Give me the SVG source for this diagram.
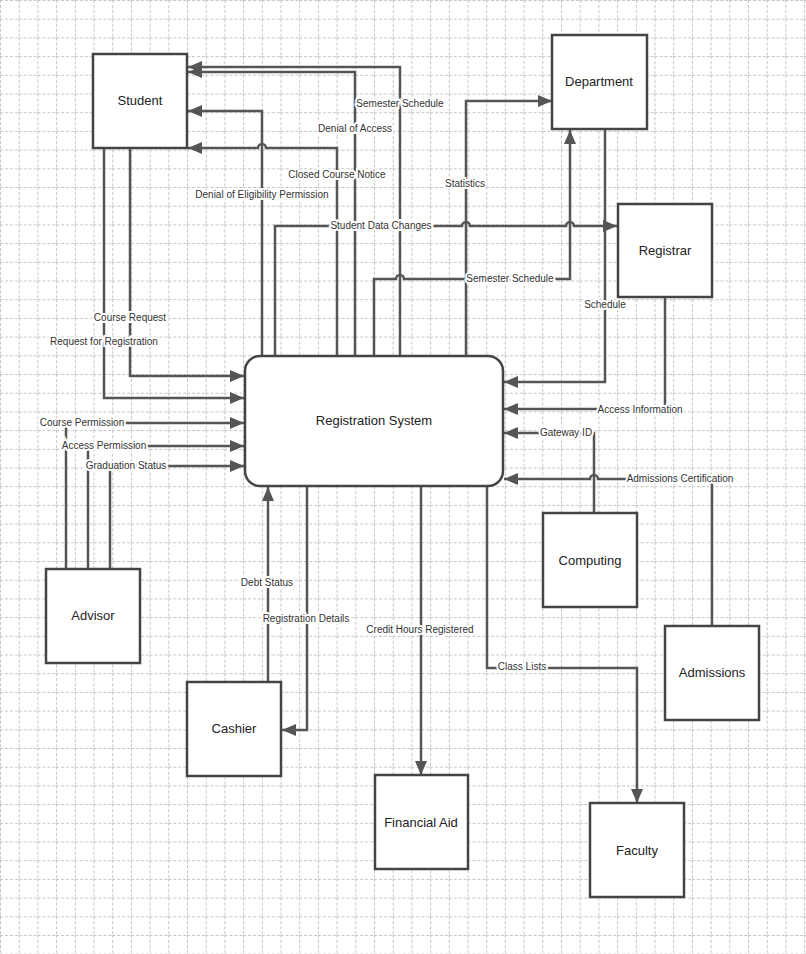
<svg xmlns="http://www.w3.org/2000/svg" width="806" height="954" viewBox="0 0 806 954">
<style>
.box{fill:#fff;stroke:#444;stroke-width:2.5}
.c{fill:none;stroke:#555;stroke-width:2.5}
.nl{font-family:"Liberation Sans",Arial,sans-serif;font-size:13px;fill:#222;text-anchor:middle}
.el{font-family:"Liberation Sans",Arial,sans-serif;font-size:10px;fill:#333;text-anchor:middle;stroke:#fff;stroke-width:4;paint-order:stroke}
</style>
<defs>
<pattern id="g" width="18.7" height="18.7" patternUnits="userSpaceOnUse">
<path d="M0 0.5H18.7M0.5 0V18.7" stroke="#c4c4c4" stroke-width="1" stroke-dasharray="3 2" fill="none"/>
</pattern>
<marker id="a" viewBox="0 0 14 12" refX="14" refY="6" markerWidth="14" markerHeight="12" markerUnits="userSpaceOnUse" orient="auto">
<path d="M0 0L14 6L0 12z" fill="#555"/>
</marker>
</defs>
<rect width="806" height="954" fill="#fff"/>
<rect width="806" height="954" fill="url(#g)"/>
<g id="connectors" class="c" marker-end="url(#a)">
<path d="M400 356V67H188"/>
<path d="M355 356V72H188"/>
<path d="M262 356V111H188"/>
<path d="M337 356V148H266a4 4 0 0 0-8 0H188"/>
<path d="M130 148V376H244"/>
<path d="M104 148V398H244"/>
<path d="M275 356V226H462a4 4 0 0 1 8 0H566a4 4 0 0 1 8 0H617"/>
<path d="M374 356V279H396a4 4 0 0 1 8 0H570V130"/>
<path d="M466 356V101H552"/>
<path d="M605 129V382H504"/>
<path d="M665 297V409H504"/>
<path d="M594 513V433H504"/>
<path d="M712 626V479H598a4 4 0 0 0-8 0H504"/>
<path d="M487 486V668H637V803"/>
<path d="M421 486V775"/>
<path d="M268 682V487"/>
<path d="M307 486V730H282"/>
<path d="M66 569V423H244"/>
<path d="M88 569V446H244"/>
<path d="M110 569V466H244"/>
</g>
<g id="labels">
<text class="el" x="400" y="107">Semester Schedule</text>
<text class="el" x="355" y="132">Denial of Access</text>
<text class="el" x="337" y="178">Closed Course Notice</text>
<text class="el" x="262" y="198">Denial of Eligibility Permission</text>
<text class="el" x="381" y="229">Student Data Changes</text>
<text class="el" x="465" y="187">Statistics</text>
<text class="el" x="510" y="282">Semester Schedule</text>
<text class="el" x="605" y="308">Schedule</text>
<text class="el" x="130" y="321">Course Request</text>
<text class="el" x="104" y="345">Request for Registration</text>
<text class="el" x="82" y="426">Course Permission</text>
<text class="el" x="104" y="449">Access Permission</text>
<text class="el" x="126" y="469">Graduation Status</text>
<text class="el" x="640" y="413">Access Information</text>
<text class="el" x="566" y="436">Gateway ID</text>
<text class="el" x="680" y="482">Admissions Certification</text>
<text class="el" x="267" y="586">Debt Status</text>
<text class="el" x="306" y="622">Registration Details</text>
<text class="el" x="420" y="633">Credit Hours Registered</text>
<text class="el" x="522" y="670">Class Lists</text>
</g>
<g id="student"><rect class="box" x="93" y="54" width="94" height="94"/><text class="nl" x="140" y="105">Student</text></g>
<g id="department"><rect class="box" x="552" y="35" width="95" height="94"/><text class="nl" x="599" y="86">Department</text></g>
<g id="registrar"><rect class="box" x="618" y="204" width="94" height="93"/><text class="nl" x="665" y="255">Registrar</text></g>
<g id="registration-system"><rect class="box" x="245" y="356" width="258" height="130" rx="15"/><text class="nl" x="374" y="425">Registration System</text></g>
<g id="computing"><rect class="box" x="543" y="513" width="94" height="94"/><text class="nl" x="590" y="565">Computing</text></g>
<g id="admissions"><rect class="box" x="665" y="626" width="94" height="94"/><text class="nl" x="712" y="677">Admissions</text></g>
<g id="advisor"><rect class="box" x="46" y="569" width="94" height="94"/><text class="nl" x="93" y="620">Advisor</text></g>
<g id="cashier"><rect class="box" x="187" y="682" width="94" height="94"/><text class="nl" x="234" y="733">Cashier</text></g>
<g id="financial-aid"><rect class="box" x="375" y="775" width="93" height="94"/><text class="nl" x="421" y="827">Financial Aid</text></g>
<g id="faculty"><rect class="box" x="590" y="803" width="94" height="94"/><text class="nl" x="637" y="855">Faculty</text></g>
</svg>
